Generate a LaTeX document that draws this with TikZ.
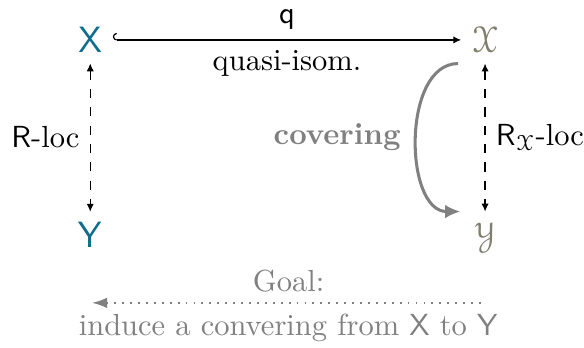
\documentclass[tikz,border=0pt]{standalone}
\usepackage{amsmath,amssymb}
\usepackage{eucal}
\usepackage{tikz}
\usetikzlibrary{arrows.meta,positioning}

\definecolor{spaceblue}{RGB}{14,108,140}
\definecolor{stackgray}{RGB}{128,126,108}
\definecolor{notegray}{RGB}{128,128,128}

\begin{document}
\begin{tikzpicture}[
  obj/.style={font=\large},
  sp/.style={obj,text=spaceblue},
  st/.style={obj,text=stackgray},
  arr/.style={-{Latex[length=2.6pt,width=2.4pt]},thin},
  loc/.style={{Latex[length=2.6pt,width=2.4pt]}-{Latex[length=2.6pt,width=2.4pt]},thin,dashed},
  cov/.style={-{Latex[length=5pt,width=4.5pt]},line width=1pt,notegray},
  goal/.style={{Latex[length=5pt,width=3.5pt]}-,dotted,line width=0.6pt,notegray}]
  \useasboundingbox (0,0) rectangle (6.73,-4.0);
  \node[sp] (X) at (1.04,-0.46) {$\mathsf{X}$};
  \node[st] (cX) at (5.59,-0.46) {$\mathcal{X}$};
  \node[sp] (Y) at (1.04,-2.71) {$\mathsf{Y}$};
  \node[st] (cY) at (5.59,-2.71) {$\mathcal{Y}$};
  \draw[arr,{Hooks[right]}-{Latex[length=2.6pt,width=2.4pt]}] (X) -- node[above] (q) {$\mathsf{q}$} node[below] (qi) {quasi-isom.} (cX);
  \draw[loc] (X) -- node[left] (rl) {$\mathsf{R}$-loc} (Y);
  \draw[loc] (cX) -- node[right] (rxl) {$\mathsf{R}_{\mathcal{X}}$-loc} (cY);
  \draw[cov] ([xshift=-1pt]cX.south west) .. controls +(-0.65,0) and +(-0.65,0) .. node[left=1.5pt,font=\bfseries] (c) {covering} ([xshift=-1pt]cY.north west);
  % goal
  \coordinate (g1) at (5.59,-3.49);
  \coordinate (g2) at (1.06,-3.49);
  \draw[goal] (g2) -- node[above,text=notegray] (gl) {Goal:} node[below,text=notegray] (ind) {induce a convering from $\mathsf{X}$ to $\mathsf{Y}$} (g1);
\end{tikzpicture}
\end{document}
